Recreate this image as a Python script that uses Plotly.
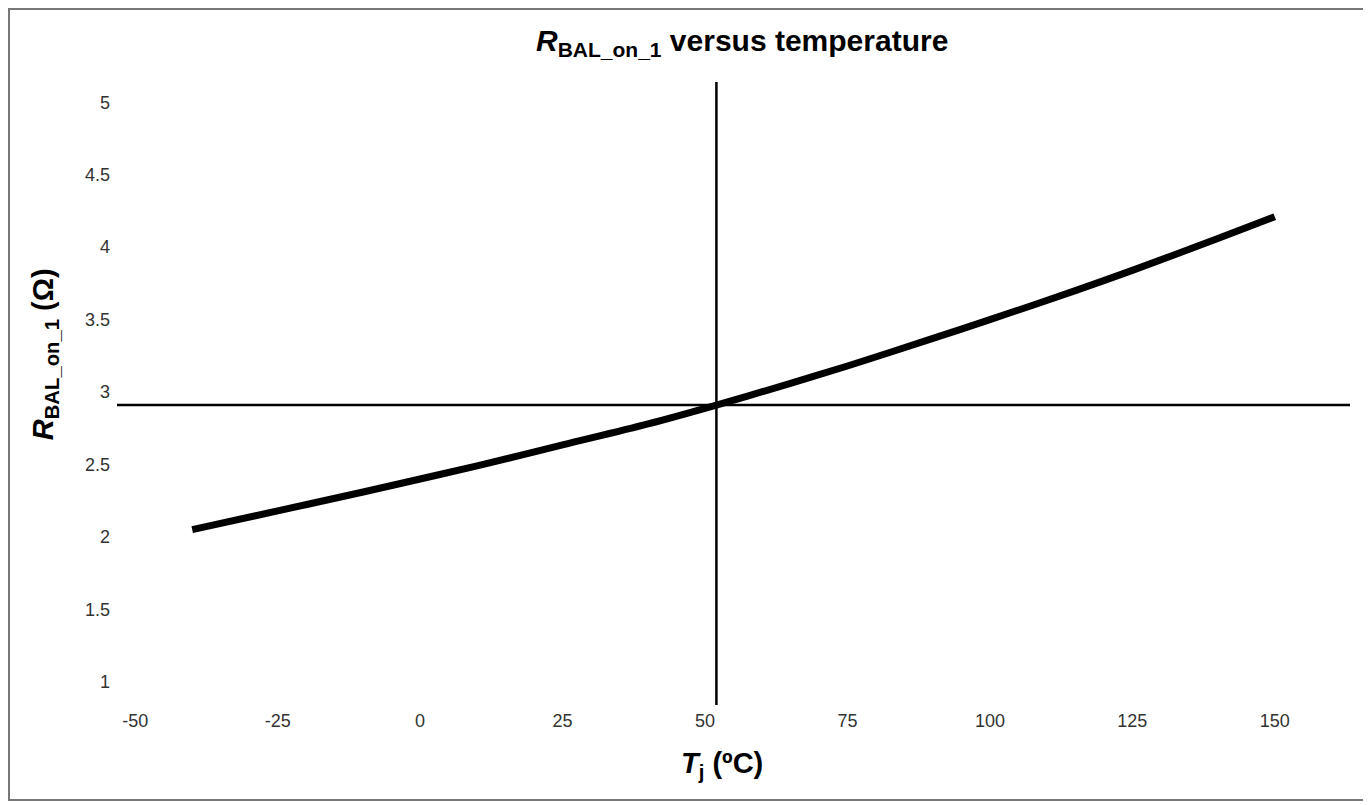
import plotly.graph_objects as go

# Data
temperature_c = [-40, -25, -10, 0, 10, 25, 40, 52, 65, 75, 90, 100, 115, 125, 140, 150]
r_bal_on_1 = [2.05, 2.18, 2.31, 2.40, 2.49, 2.635, 2.78, 2.91, 3.06, 3.18, 3.37, 3.50, 3.70, 3.84, 4.06, 4.21]

ref_temperature = 52      # vertical reference line (°C)
ref_resistance = 2.91     # horizontal reference line (Ω)

x_ticks = [-50, -25, 0, 25, 50, 75, 100, 125, 150]
x_tick_labels = ["-50", "-25", "0", "25", "50", "75", "100", "125", "150"]
y_ticks = [1, 1.5, 2, 2.5, 3, 3.5, 4, 4.5, 5]

x_range = [-53.2, 163.2]
y_range = [0.84, 5.14]

FONT = "Liberation Sans, Arial, sans-serif"

fig = go.Figure()

fig.add_trace(go.Scatter(
    x=[ref_temperature, ref_temperature], y=y_range,
    mode="lines", line=dict(color="black", width=2.5),
    hoverinfo="skip", showlegend=False))
fig.add_trace(go.Scatter(
    x=x_range, y=[ref_resistance, ref_resistance],
    mode="lines", line=dict(color="black", width=2.5),
    hoverinfo="skip", showlegend=False))

fig.add_trace(go.Scatter(
    x=temperature_c, y=r_bal_on_1,
    mode="lines", line=dict(color="black", width=7, shape="spline", smoothing=1.0),
    showlegend=False))

fig.update_layout(
    width=1371, height=805,
    margin=dict(l=109, r=29, t=74, b=108),
    paper_bgcolor="white", plot_bgcolor="white",
    font=dict(family=FONT, color="#222"),
    showlegend=False,
)

fig.update_xaxes(
    range=x_range, tickvals=x_ticks, ticktext=x_tick_labels,
    showgrid=False, zeroline=False, showline=False, ticks="",
    ticklabelstandoff=3,
    tickfont=dict(size=18, color="#333", family=FONT),
)
fig.update_yaxes(
    range=y_range, tickvals=y_ticks, showgrid=False, zeroline=False,
    showline=False, ticks="", ticklabelstandoff=6,
    tickfont=dict(size=18, color="#333", family=FONT),
)

annotations = [
    dict(text="<b><i>R</i><sub>BAL_on_1</sub> versus temperature</b>",
         x=0.507, y=1.064, xref="paper", yref="paper", showarrow=False,
         font=dict(size=30, color="black", family=FONT), xanchor="center", yanchor="middle"),
    dict(text="<b><i>T</i><sub>j</sub> (ºC)</b>",
         x=0.491, y=-0.0963, xref="paper", yref="paper", showarrow=False,
         font=dict(size=29, color="black", family=FONT), xanchor="center", yanchor="middle"),
    dict(text="<b><i>R</i><sub>BAL_on_1</sub> (Ω)</b>",
         x=-0.0584, y=0.563, xref="paper", yref="paper", showarrow=False, textangle=-90,
         font=dict(size=29, color="black", family=FONT), xanchor="center", yanchor="middle"),
]
fig.update_layout(annotations=annotations)

# Outer frame around the whole figure
fig.add_shape(type="rect", xref="paper", yref="paper",
              x0=-0.0876, x1=1.0138, y0=-0.1525, y1=1.1172,
              line=dict(color="#777", width=2), fillcolor="rgba(0,0,0,0)", layer="below")

fig.write_html("out.html")
